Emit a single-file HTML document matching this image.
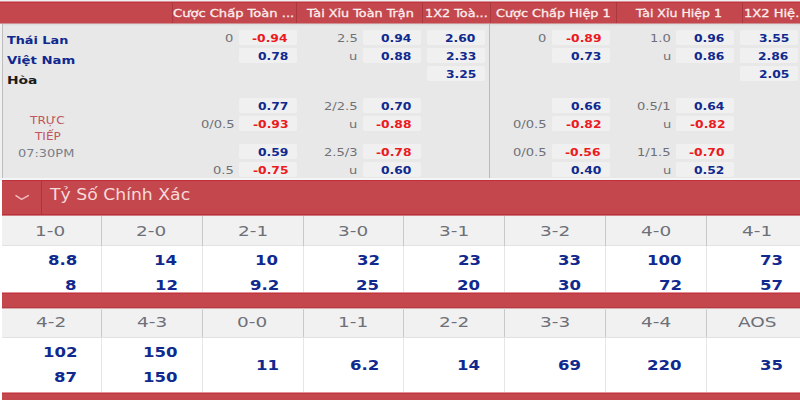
<!DOCTYPE html>
<html lang="vi"><head><meta charset="utf-8"><title>Tỷ lệ kèo Thái Lan - Việt Nam</title>
<style>
html,body{margin:0;padding:0}
body{width:800px;height:400px;position:relative;overflow:hidden;background:#fff;font-family:"DejaVu Sans","Liberation Sans",sans-serif;}
.r{position:absolute}
.t{position:absolute;white-space:pre;transform-origin:0 0;line-height:24px}
.b{font-weight:bold}
</style></head><body>
<div class="g backdrop" aria-hidden="true">
<div class="r" style="left:0px;top:0px;width:800px;height:400px;background:#ffffff;"></div>
<div class="r" style="left:0px;top:0px;width:800px;height:1px;background:#eef1f1;"></div>
<div class="r" style="left:0px;top:1px;width:800px;height:23px;background:#c4474d;"></div>
<div class="r" style="left:0px;top:1px;width:800px;height:1px;background:#d89096;"></div>
<div class="r" style="left:0px;top:2px;width:800px;height:1px;background:#c2343e;"></div>
<div class="r" style="left:171.5px;top:2px;width:1px;height:21px;background:#a9393f;"></div>
<div class="r" style="left:296px;top:2px;width:1px;height:21px;background:#a9393f;"></div>
<div class="r" style="left:422.25px;top:2px;width:1px;height:21px;background:#a9393f;"></div>
<div class="r" style="left:489.5px;top:2px;width:1px;height:21px;background:#a9393f;"></div>
<div class="r" style="left:615.5px;top:2px;width:1px;height:21px;background:#a9393f;"></div>
<div class="r" style="left:741.75px;top:2px;width:1px;height:21px;background:#a9393f;"></div>
<div class="r" style="left:0px;top:23.5px;width:800px;height:156.5px;background:#e8e8e8;"></div>
<div class="r" style="left:0px;top:23px;width:800px;height:1px;background:#cf9093;"></div>
<div class="r" style="left:0px;top:24px;width:800px;height:1px;background:#dedede;"></div>
<div class="r" style="left:0px;top:25px;width:800px;height:1px;background:#e4e4e4;"></div>
<div class="r" style="left:0px;top:23.5px;width:1.5px;height:156.5px;background:#f0f0f0;"></div>
<div class="r" style="left:1.5px;top:23.5px;width:1.3px;height:156.5px;background:#bdbdbd;"></div>
<div class="r" style="left:0px;top:178.2px;width:800px;height:2px;background:#f3f6f6;"></div>
<div class="r" style="left:488.8px;top:23.5px;width:1.3px;height:154.7px;background:#bababa;"></div>
<div class="r" style="left:238.75px;top:29.5px;width:58.15px;height:15.6px;background:#f0f0f0;border-radius:2px"></div>
<div class="r" style="left:238.75px;top:47.5px;width:58.15px;height:15.6px;background:#f0f0f0;border-radius:2px"></div>
<div class="r" style="left:238.75px;top:97.5px;width:58.15px;height:15.6px;background:#f0f0f0;border-radius:2px"></div>
<div class="r" style="left:238.75px;top:115.5px;width:58.15px;height:15.6px;background:#f0f0f0;border-radius:2px"></div>
<div class="r" style="left:238.75px;top:143.5px;width:58.15px;height:15.6px;background:#f0f0f0;border-radius:2px"></div>
<div class="r" style="left:238.75px;top:161.5px;width:58.15px;height:15.6px;background:#f0f0f0;border-radius:2px"></div>
<div class="r" style="left:362.5px;top:29.5px;width:58.75px;height:15.6px;background:#f0f0f0;border-radius:2px"></div>
<div class="r" style="left:362.5px;top:47.5px;width:58.75px;height:15.6px;background:#f0f0f0;border-radius:2px"></div>
<div class="r" style="left:362.5px;top:97.5px;width:58.75px;height:15.6px;background:#f0f0f0;border-radius:2px"></div>
<div class="r" style="left:362.5px;top:115.5px;width:58.75px;height:15.6px;background:#f0f0f0;border-radius:2px"></div>
<div class="r" style="left:362.5px;top:143.5px;width:58.75px;height:15.6px;background:#f0f0f0;border-radius:2px"></div>
<div class="r" style="left:362.5px;top:161.5px;width:58.75px;height:15.6px;background:#f0f0f0;border-radius:2px"></div>
<div class="r" style="left:427px;top:29.5px;width:58.2px;height:15.6px;background:#f0f0f0;border-radius:2px"></div>
<div class="r" style="left:427px;top:47.5px;width:58.2px;height:15.6px;background:#f0f0f0;border-radius:2px"></div>
<div class="r" style="left:427px;top:65.5px;width:58.2px;height:15.6px;background:#f0f0f0;border-radius:2px"></div>
<div class="r" style="left:552.4px;top:29.5px;width:58px;height:15.6px;background:#f0f0f0;border-radius:2px"></div>
<div class="r" style="left:552.4px;top:47.5px;width:58px;height:15.6px;background:#f0f0f0;border-radius:2px"></div>
<div class="r" style="left:552.4px;top:97.5px;width:58px;height:15.6px;background:#f0f0f0;border-radius:2px"></div>
<div class="r" style="left:552.4px;top:115.5px;width:58px;height:15.6px;background:#f0f0f0;border-radius:2px"></div>
<div class="r" style="left:552.4px;top:143.5px;width:58px;height:15.6px;background:#f0f0f0;border-radius:2px"></div>
<div class="r" style="left:552.4px;top:161.5px;width:58px;height:15.6px;background:#f0f0f0;border-radius:2px"></div>
<div class="r" style="left:676.2px;top:29.5px;width:58.2px;height:15.6px;background:#f0f0f0;border-radius:2px"></div>
<div class="r" style="left:676.2px;top:47.5px;width:58.2px;height:15.6px;background:#f0f0f0;border-radius:2px"></div>
<div class="r" style="left:676.2px;top:97.5px;width:58.2px;height:15.6px;background:#f0f0f0;border-radius:2px"></div>
<div class="r" style="left:676.2px;top:115.5px;width:58.2px;height:15.6px;background:#f0f0f0;border-radius:2px"></div>
<div class="r" style="left:676.2px;top:143.5px;width:58.2px;height:15.6px;background:#f0f0f0;border-radius:2px"></div>
<div class="r" style="left:676.2px;top:161.5px;width:58.2px;height:15.6px;background:#f0f0f0;border-radius:2px"></div>
<div class="r" style="left:740px;top:29.5px;width:58px;height:15.6px;background:#f0f0f0;border-radius:2px"></div>
<div class="r" style="left:740px;top:47.5px;width:58px;height:15.6px;background:#f0f0f0;border-radius:2px"></div>
<div class="r" style="left:740px;top:65.5px;width:58px;height:15.6px;background:#f0f0f0;border-radius:2px"></div>
<div class="r" style="left:2px;top:180px;width:798px;height:36px;background:#c4474d;"></div>
<div class="r" style="left:2px;top:180px;width:798px;height:1.4px;background:#c12f3a;"></div>
<div class="r" style="left:2px;top:214px;width:798px;height:1px;background:#b8303a;"></div>
<div class="r" style="left:2px;top:215px;width:798px;height:1px;background:#cf7d83;"></div>
<div class="r" style="left:40.8px;top:181px;width:1.2px;height:34px;background:#a9363d;"></div>
<div class="r" style="left:2px;top:216px;width:798px;height:29.5px;background:#f1f1f1;"></div>
<div class="r" style="left:2px;top:245px;width:798px;height:1px;background:#e2e2e2;"></div>
<div class="r" style="left:100.77px;top:216px;width:1px;height:29.5px;background:#c9c9c9;"></div>
<div class="r" style="left:100.77px;top:246px;width:1px;height:46px;background:#e6e6e6;"></div>
<div class="r" style="left:201.64px;top:216px;width:1px;height:29.5px;background:#c9c9c9;"></div>
<div class="r" style="left:201.64px;top:246px;width:1px;height:46px;background:#e6e6e6;"></div>
<div class="r" style="left:302.51px;top:216px;width:1px;height:29.5px;background:#c9c9c9;"></div>
<div class="r" style="left:302.51px;top:246px;width:1px;height:46px;background:#e6e6e6;"></div>
<div class="r" style="left:403.38px;top:216px;width:1px;height:29.5px;background:#c9c9c9;"></div>
<div class="r" style="left:403.38px;top:246px;width:1px;height:46px;background:#e6e6e6;"></div>
<div class="r" style="left:504.25px;top:216px;width:1px;height:29.5px;background:#c9c9c9;"></div>
<div class="r" style="left:504.25px;top:246px;width:1px;height:46px;background:#e6e6e6;"></div>
<div class="r" style="left:605.12px;top:216px;width:1px;height:29.5px;background:#c9c9c9;"></div>
<div class="r" style="left:605.12px;top:246px;width:1px;height:46px;background:#e6e6e6;"></div>
<div class="r" style="left:705.99px;top:216px;width:1px;height:29.5px;background:#c9c9c9;"></div>
<div class="r" style="left:705.99px;top:246px;width:1px;height:46px;background:#e6e6e6;"></div>
<div class="r" style="left:2px;top:292px;width:798px;height:16px;background:#c4474d;"></div>
<div class="r" style="left:2px;top:292px;width:798px;height:1px;background:#e09298;"></div>
<div class="r" style="left:2px;top:293px;width:798px;height:1px;background:#c23640;"></div>
<div class="r" style="left:2px;top:307px;width:798px;height:1px;background:#b63a42;"></div>
<div class="r" style="left:2px;top:308px;width:798px;height:29px;background:#f1f1f1;"></div>
<div class="r" style="left:2px;top:308px;width:798px;height:1px;background:#d9a8ab;"></div>
<div class="r" style="left:2px;top:336.5px;width:798px;height:1px;background:#e2e2e2;"></div>
<div class="r" style="left:100.77px;top:308px;width:1px;height:29px;background:#c9c9c9;"></div>
<div class="r" style="left:100.77px;top:338px;width:1px;height:54px;background:#e6e6e6;"></div>
<div class="r" style="left:201.64px;top:308px;width:1px;height:29px;background:#c9c9c9;"></div>
<div class="r" style="left:201.64px;top:338px;width:1px;height:54px;background:#e6e6e6;"></div>
<div class="r" style="left:302.51px;top:308px;width:1px;height:29px;background:#c9c9c9;"></div>
<div class="r" style="left:302.51px;top:338px;width:1px;height:54px;background:#e6e6e6;"></div>
<div class="r" style="left:403.38px;top:308px;width:1px;height:29px;background:#c9c9c9;"></div>
<div class="r" style="left:403.38px;top:338px;width:1px;height:54px;background:#e6e6e6;"></div>
<div class="r" style="left:504.25px;top:308px;width:1px;height:29px;background:#c9c9c9;"></div>
<div class="r" style="left:504.25px;top:338px;width:1px;height:54px;background:#e6e6e6;"></div>
<div class="r" style="left:605.12px;top:308px;width:1px;height:29px;background:#c9c9c9;"></div>
<div class="r" style="left:605.12px;top:338px;width:1px;height:54px;background:#e6e6e6;"></div>
<div class="r" style="left:705.99px;top:308px;width:1px;height:29px;background:#c9c9c9;"></div>
<div class="r" style="left:705.99px;top:338px;width:1px;height:54px;background:#e6e6e6;"></div>
<div class="r" style="left:2px;top:392px;width:798px;height:8px;background:#c4474d;"></div>
<div class="r" style="left:2px;top:392px;width:798px;height:1px;background:#e09298;"></div>
<div class="r" style="left:2px;top:393px;width:798px;height:1px;background:#c23640;"></div>
</div>
<svg class="r" style="left:14px;top:192px" width="18" height="12" viewBox="0 0 18 12"><path d="M2 3.6 L7.6 7.3 L14.3 3.6" fill="none" stroke="#f0bcbf" stroke-width="1.5" stroke-linecap="round" stroke-linejoin="round"/></svg>
<div class="g market-headers">
<span class="t" style="left:173.00px;top:2.00px;font-size:10.9px;color:#fbeeee;-webkit-text-stroke:0.3px #fbeeee;transform:scaleX(1.2000)">Cược Chấp Toàn ...</span>
<span class="t" style="left:307.10px;top:2.00px;font-size:10.9px;color:#fbeeee;-webkit-text-stroke:0.3px #fbeeee;transform:scaleX(1.1734)">Tài Xỉu Toàn Trận</span>
<span class="t" style="left:424.53px;top:2.00px;font-size:10.9px;color:#fbeeee;-webkit-text-stroke:0.3px #fbeeee;transform:scaleX(1.1765)">1X2 Toà...</span>
<span class="t" style="left:496.41px;top:2.00px;font-size:10.9px;color:#fbeeee;-webkit-text-stroke:0.3px #fbeeee;transform:scaleX(1.1771)">Cược Chấp Hiệp 1</span>
<span class="t" style="left:636.00px;top:2.00px;font-size:10.9px;color:#fbeeee;-webkit-text-stroke:0.3px #fbeeee;transform:scaleX(1.1525)">Tài Xỉu Hiệp 1</span>
<span class="t" style="left:743.70px;top:2.00px;font-size:10.9px;color:#fbeeee;-webkit-text-stroke:0.3px #fbeeee;transform:scaleX(1.1980)">1X2 Hiệ...</span>
</div>
<div class="g match-info">
<span class="t b" style="left:7.20px;top:29.00px;font-size:11px;color:#10298e;transform:scaleX(1.1652)">Thái Lan</span>
<span class="t b" style="left:7.00px;top:49.00px;font-size:11px;color:#10298e;transform:scaleX(1.2018)">Việt Nam</span>
<span class="t b" style="left:6.64px;top:69.00px;font-size:11px;color:#1c1c1c;transform:scaleX(1.2584)">Hòa</span>
<span class="t" style="left:29.75px;top:108.00px;font-size:10.3px;color:#c05560;transform:scaleX(1.1776)">TRỰC</span>
<span class="t" style="left:34.50px;top:124.00px;font-size:10.3px;color:#c05560;transform:scaleX(1.1678)">TIẾP</span>
<span class="t" style="left:18.29px;top:142.00px;font-size:10.1px;color:#7b7e88;transform:scaleX(1.2840)">07:30PM</span>
</div>
<div class="g odds">
<span class="t b" style="left:252.47px;top:27.00px;font-size:11.2px;color:#ea1a20;transform:scaleX(1.1000)">-0.94</span>
<span class="t b" style="left:257.70px;top:45.00px;font-size:11.2px;color:#10298e;transform:scaleX(1.1000)">0.78</span>
<span class="t b" style="left:257.97px;top:95.00px;font-size:11.2px;color:#10298e;transform:scaleX(1.1000)">0.77</span>
<span class="t b" style="left:253.02px;top:113.00px;font-size:11.2px;color:#ea1a20;transform:scaleX(1.1000)">-0.93</span>
<span class="t b" style="left:257.70px;top:141.00px;font-size:11.2px;color:#10298e;transform:scaleX(1.1000)">0.59</span>
<span class="t b" style="left:252.75px;top:159.00px;font-size:11.2px;color:#ea1a20;transform:scaleX(1.1000)">-0.75</span>
<span class="t b" style="left:381.20px;top:27.00px;font-size:11.2px;color:#10298e;transform:scaleX(1.1000)">0.94</span>
<span class="t b" style="left:381.20px;top:45.00px;font-size:11.2px;color:#10298e;transform:scaleX(1.1000)">0.88</span>
<span class="t b" style="left:381.20px;top:95.00px;font-size:11.2px;color:#10298e;transform:scaleX(1.1000)">0.70</span>
<span class="t b" style="left:376.25px;top:113.00px;font-size:11.2px;color:#ea1a20;transform:scaleX(1.1000)">-0.88</span>
<span class="t b" style="left:376.25px;top:141.00px;font-size:11.2px;color:#ea1a20;transform:scaleX(1.1000)">-0.78</span>
<span class="t b" style="left:381.20px;top:159.00px;font-size:11.2px;color:#10298e;transform:scaleX(1.1000)">0.60</span>
<span class="t b" style="left:445.30px;top:27.00px;font-size:11.2px;color:#10298e;transform:scaleX(1.1000)">2.60</span>
<span class="t b" style="left:445.57px;top:45.00px;font-size:11.2px;color:#10298e;transform:scaleX(1.1000)">2.33</span>
<span class="t b" style="left:445.57px;top:63.00px;font-size:11.2px;color:#10298e;transform:scaleX(1.1000)">3.25</span>
<span class="t b" style="left:565.55px;top:27.00px;font-size:11.2px;color:#ea1a20;transform:scaleX(1.1000)">-0.89</span>
<span class="t b" style="left:570.78px;top:45.00px;font-size:11.2px;color:#10298e;transform:scaleX(1.1000)">0.73</span>
<span class="t b" style="left:570.50px;top:95.00px;font-size:11.2px;color:#10298e;transform:scaleX(1.1000)">0.66</span>
<span class="t b" style="left:565.83px;top:113.00px;font-size:11.2px;color:#ea1a20;transform:scaleX(1.1000)">-0.82</span>
<span class="t b" style="left:565.28px;top:141.00px;font-size:11.2px;color:#ea1a20;transform:scaleX(1.1000)">-0.56</span>
<span class="t b" style="left:570.50px;top:159.00px;font-size:11.2px;color:#10298e;transform:scaleX(1.1000)">0.40</span>
<span class="t b" style="left:694.20px;top:27.00px;font-size:11.2px;color:#10298e;transform:scaleX(1.1000)">0.96</span>
<span class="t b" style="left:694.20px;top:45.00px;font-size:11.2px;color:#10298e;transform:scaleX(1.1000)">0.86</span>
<span class="t b" style="left:694.20px;top:95.00px;font-size:11.2px;color:#10298e;transform:scaleX(1.1000)">0.64</span>
<span class="t b" style="left:689.52px;top:113.00px;font-size:11.2px;color:#ea1a20;transform:scaleX(1.1000)">-0.82</span>
<span class="t b" style="left:688.98px;top:141.00px;font-size:11.2px;color:#ea1a20;transform:scaleX(1.1000)">-0.70</span>
<span class="t b" style="left:694.48px;top:159.00px;font-size:11.2px;color:#10298e;transform:scaleX(1.1000)">0.52</span>
<span class="t b" style="left:758.68px;top:27.00px;font-size:11.2px;color:#10298e;transform:scaleX(1.1000)">3.55</span>
<span class="t b" style="left:758.40px;top:45.00px;font-size:11.2px;color:#10298e;transform:scaleX(1.1000)">2.86</span>
<span class="t b" style="left:758.68px;top:63.00px;font-size:11.2px;color:#10298e;transform:scaleX(1.1000)">2.05</span>
</div>
<div class="g handicap-lines">
<span class="t" style="left:225.40px;top:27.00px;font-size:11.2px;color:#6f7177;transform:scaleX(1.1700)">0</span>
<span class="t" style="left:200.53px;top:113.00px;font-size:11.2px;color:#6f7177;transform:scaleX(1.1700)">0/0.5</span>
<span class="t" style="left:213.40px;top:159.00px;font-size:11.2px;color:#6f7177;transform:scaleX(1.1700)">0.5</span>
<span class="t" style="left:336.90px;top:27.00px;font-size:11.2px;color:#6f7177;transform:scaleX(1.1700)">2.5</span>
<span class="t" style="left:349.48px;top:45.00px;font-size:11.2px;color:#6f7177;transform:scaleX(1.1700)">u</span>
<span class="t" style="left:324.03px;top:95.00px;font-size:11.2px;color:#6f7177;transform:scaleX(1.1700)">2/2.5</span>
<span class="t" style="left:349.48px;top:113.00px;font-size:11.2px;color:#6f7177;transform:scaleX(1.1700)">u</span>
<span class="t" style="left:324.03px;top:141.00px;font-size:11.2px;color:#6f7177;transform:scaleX(1.1700)">2.5/3</span>
<span class="t" style="left:349.48px;top:159.00px;font-size:11.2px;color:#6f7177;transform:scaleX(1.1700)">u</span>
<span class="t" style="left:538.00px;top:27.00px;font-size:11.2px;color:#6f7177;transform:scaleX(1.1700)">0</span>
<span class="t" style="left:513.13px;top:113.00px;font-size:11.2px;color:#6f7177;transform:scaleX(1.1700)">0/0.5</span>
<span class="t" style="left:513.13px;top:141.00px;font-size:11.2px;color:#6f7177;transform:scaleX(1.1700)">0/0.5</span>
<span class="t" style="left:649.71px;top:27.00px;font-size:11.2px;color:#6f7177;transform:scaleX(1.1700)">1.0</span>
<span class="t" style="left:662.58px;top:45.00px;font-size:11.2px;color:#6f7177;transform:scaleX(1.1700)">u</span>
<span class="t" style="left:637.13px;top:95.00px;font-size:11.2px;color:#6f7177;transform:scaleX(1.1700)">0.5/1</span>
<span class="t" style="left:662.58px;top:113.00px;font-size:11.2px;color:#6f7177;transform:scaleX(1.1700)">u</span>
<span class="t" style="left:637.13px;top:141.00px;font-size:11.2px;color:#6f7177;transform:scaleX(1.1700)">1/1.5</span>
<span class="t" style="left:662.58px;top:159.00px;font-size:11.2px;color:#6f7177;transform:scaleX(1.1700)">u</span>
</div>
<div class="g section-title">
<span class="t" style="left:50.40px;top:183.00px;font-size:15.3px;color:#f7dada;transform:scaleX(1.1271)">Tỷ Số Chính Xác</span>
</div>
<div class="g correct-score">
<span class="t" style="left:35.26px;top:219.00px;font-size:14.2px;color:#6e7078;transform:scaleX(1.3000)">1-0</span>
<span class="t b" style="left:47.59px;top:248.00px;font-size:14.5px;color:#10298e;transform:scaleX(1.1400)">8.8</span>
<span class="t b" style="left:65.25px;top:273.00px;font-size:14.5px;color:#10298e;transform:scaleX(1.1400)">8</span>
<span class="t" style="left:36.07px;top:310.00px;font-size:14.2px;color:#6e7078;transform:scaleX(1.3000)">4-2</span>
<span class="t b" style="left:42.74px;top:340.00px;font-size:14.5px;color:#10298e;transform:scaleX(1.1400)">102</span>
<span class="t b" style="left:54.14px;top:365.00px;font-size:14.5px;color:#10298e;transform:scaleX(1.1400)">87</span>
<span class="t" style="left:136.46px;top:219.00px;font-size:14.2px;color:#6e7078;transform:scaleX(1.3000)">2-0</span>
<span class="t b" style="left:154.44px;top:248.00px;font-size:14.5px;color:#10298e;transform:scaleX(1.1400)">14</span>
<span class="t b" style="left:155.01px;top:273.00px;font-size:14.5px;color:#10298e;transform:scaleX(1.1400)">12</span>
<span class="t" style="left:136.78px;top:310.00px;font-size:14.2px;color:#6e7078;transform:scaleX(1.3000)">4-3</span>
<span class="t b" style="left:143.04px;top:340.00px;font-size:14.5px;color:#10298e;transform:scaleX(1.1400)">150</span>
<span class="t b" style="left:143.04px;top:365.00px;font-size:14.5px;color:#10298e;transform:scaleX(1.1400)">150</span>
<span class="t" style="left:237.65px;top:219.00px;font-size:14.2px;color:#6e7078;transform:scaleX(1.3000)">2-1</span>
<span class="t b" style="left:255.31px;top:248.00px;font-size:14.5px;color:#10298e;transform:scaleX(1.1400)">10</span>
<span class="t b" style="left:249.61px;top:273.00px;font-size:14.5px;color:#10298e;transform:scaleX(1.1400)">9.2</span>
<span class="t" style="left:237.33px;top:310.00px;font-size:14.2px;color:#6e7078;transform:scaleX(1.3000)">0-0</span>
<span class="t b" style="left:255.60px;top:353.00px;font-size:14.5px;color:#10298e;transform:scaleX(1.1400)">11</span>
<span class="t" style="left:338.20px;top:219.00px;font-size:14.2px;color:#6e7078;transform:scaleX(1.3000)">3-0</span>
<span class="t b" style="left:356.75px;top:248.00px;font-size:14.5px;color:#10298e;transform:scaleX(1.1400)">32</span>
<span class="t b" style="left:356.47px;top:273.00px;font-size:14.5px;color:#10298e;transform:scaleX(1.1400)">25</span>
<span class="t" style="left:338.20px;top:310.00px;font-size:14.2px;color:#6e7078;transform:scaleX(1.3000)">1-1</span>
<span class="t b" style="left:350.48px;top:353.00px;font-size:14.5px;color:#10298e;transform:scaleX(1.1400)">6.2</span>
<span class="t" style="left:439.39px;top:219.00px;font-size:14.2px;color:#6e7078;transform:scaleX(1.3000)">3-1</span>
<span class="t b" style="left:457.62px;top:248.00px;font-size:14.5px;color:#10298e;transform:scaleX(1.1400)">23</span>
<span class="t b" style="left:457.05px;top:273.00px;font-size:14.5px;color:#10298e;transform:scaleX(1.1400)">20</span>
<span class="t" style="left:439.39px;top:310.00px;font-size:14.2px;color:#6e7078;transform:scaleX(1.3000)">2-2</span>
<span class="t b" style="left:457.05px;top:353.00px;font-size:14.5px;color:#10298e;transform:scaleX(1.1400)">14</span>
<span class="t" style="left:540.26px;top:219.00px;font-size:14.2px;color:#6e7078;transform:scaleX(1.3000)">3-2</span>
<span class="t b" style="left:558.49px;top:248.00px;font-size:14.5px;color:#10298e;transform:scaleX(1.1400)">33</span>
<span class="t b" style="left:557.92px;top:273.00px;font-size:14.5px;color:#10298e;transform:scaleX(1.1400)">30</span>
<span class="t" style="left:540.10px;top:310.00px;font-size:14.2px;color:#6e7078;transform:scaleX(1.3000)">3-3</span>
<span class="t b" style="left:558.20px;top:353.00px;font-size:14.5px;color:#10298e;transform:scaleX(1.1400)">69</span>
<span class="t" style="left:640.97px;top:219.00px;font-size:14.2px;color:#6e7078;transform:scaleX(1.3000)">4-0</span>
<span class="t b" style="left:647.39px;top:248.00px;font-size:14.5px;color:#10298e;transform:scaleX(1.1400)">100</span>
<span class="t b" style="left:659.36px;top:273.00px;font-size:14.5px;color:#10298e;transform:scaleX(1.1400)">72</span>
<span class="t" style="left:640.97px;top:310.00px;font-size:14.2px;color:#6e7078;transform:scaleX(1.3000)">4-4</span>
<span class="t b" style="left:647.39px;top:353.00px;font-size:14.5px;color:#10298e;transform:scaleX(1.1400)">220</span>
<span class="t" style="left:742.16px;top:219.00px;font-size:14.2px;color:#6e7078;transform:scaleX(1.3000)">4-1</span>
<span class="t b" style="left:760.23px;top:248.00px;font-size:14.5px;color:#10298e;transform:scaleX(1.1400)">73</span>
<span class="t b" style="left:760.23px;top:273.00px;font-size:14.5px;color:#10298e;transform:scaleX(1.1400)">57</span>
<span class="t" style="left:737.94px;top:310.00px;font-size:14.2px;color:#6e7078;transform:scaleX(1.3000)">AOS</span>
<span class="t b" style="left:759.94px;top:353.00px;font-size:14.5px;color:#10298e;transform:scaleX(1.1400)">35</span>
</div>
</body></html>
